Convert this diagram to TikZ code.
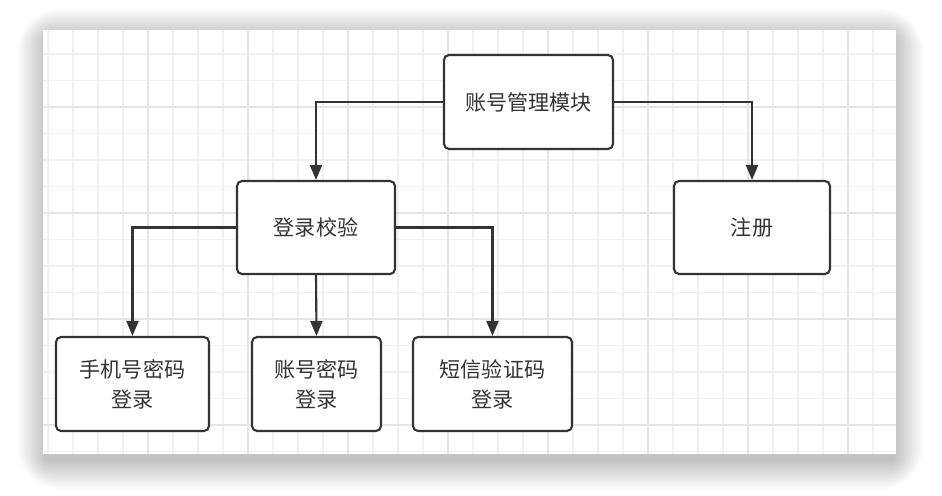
\documentclass[tikz,border=0pt]{standalone}
\usepackage{fontspec}
\newfontfamily\cjk{Noto Sans CJK SC}
\usetikzlibrary{arrows.meta}
\definecolor{ink}{HTML}{333333}
\definecolor{gridlo}{HTML}{F0F0F0}
\definecolor{gridhi}{HTML}{E6E6E6}
\begin{document}
\begin{tikzpicture}[x=0.02cm,y=-0.02cm]
\tikzset{
    box/.style={draw=ink, line width=1.2pt, rounded corners=0.1cm, fill=white,
        align=center, text=ink, inner sep=0pt,
        font=\cjk\fontsize{12}{17}\selectfont},
    link/.style={draw=ink, line width=1.2pt, -{Triangle[width=0.24cm,length=0.3cm]}},
    grid minor/.style={gridlo, line width=0.6pt},
    grid major/.style={gridhi, line width=0.9pt},
    shade layer/.style={fill=black, fill opacity=0.0065}}
\def\pl{43}
\def\pt{30}
\def\pr{896}
\def\pb{454}

\useasboundingbox (0,0) rectangle (942,495);

% soft shadow of the panel
\foreach \s in {1,...,30}
  \fill[shade layer, rounded corners=\s*0.03cm] (\pl-\s+4,\pt-\s+8) rectangle (\pr+\s-2,\pb+\s+6);

% panel and its grid
\fill[white] (\pl,\pt) rectangle (\pr,\pb);
\begin{scope}
\clip (\pl,\pt) rectangle (\pr,\pb);
\foreach \i in {0,...,34}
  \draw[grid minor] ({48+25*\i},\pt) -- (48+25*\i,\pb);
\foreach \j in {0,...,16}
  \draw[grid minor] (\pl,{27.5+26.5*\j}) -- (\pr,27.5+26.5*\j);
\foreach \i in {0,...,7}
  \draw[grid major] ({148+100*\i},\pt) -- (148+100*\i,\pb);
\foreach \j in {0,...,3}
  \draw[grid major] (\pl,{107+106*\j}) -- (\pr,107+106*\j);
\end{scope}

% boxes
\node[box, minimum width=3.38cm, minimum height=1.88cm] (module) at (528.5,102) {账号管理模块};
\node[box, minimum width=3.16cm, minimum height=1.86cm] (check) at (316,227.5) {登录校验};
\node[box, minimum width=3.12cm, minimum height=1.86cm] (signup) at (752,227.5) {注册};
\node[box, minimum width=3.06cm, minimum height=1.88cm] (phone) at (132.5,384) {手机号密码\\登录};
\node[box, minimum width=2.58cm, minimum height=1.88cm] (account) at (316.5,384) {账号密码\\登录};
\node[box, minimum width=3.18cm, minimum height=1.88cm] (sms) at (492.5,384) {短信验证码\\登录};

% connectors
\draw[link] (module.west) -| (check.north);
\draw[link] (module.east) -| (signup.north);
\draw[link] (check.west) -| (phone.north);
\draw[link] (check.south) -- (account.north);
\draw[link] (check.east) -| (sms.north);

\end{tikzpicture}
\end{document}
